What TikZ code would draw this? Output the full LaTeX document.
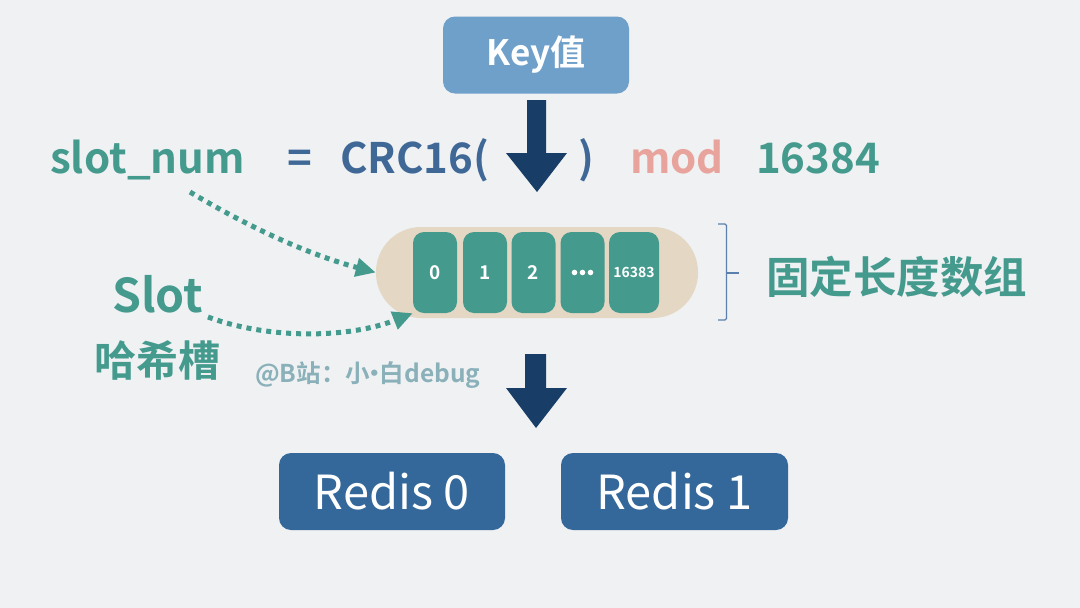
\documentclass[tikz,border=0pt]{standalone}
\usepackage{fontspec}
\setmainfont{Noto Sans CJK SC}[BoldFont={* Bold}]
\usetikzlibrary{arrows.meta}
\definecolor{bgc}{HTML}{EFF1F3}
\definecolor{keyc}{HTML}{6FA0CA}
\definecolor{navy}{HTML}{183D66}
\definecolor{teal}{HTML}{459A8E}
\definecolor{bluet}{HTML}{3F6897}
\definecolor{pinkc}{HTML}{E8A49C}
\definecolor{beige}{HTML}{E4D7C4}
\definecolor{bracec}{HTML}{5B80AE}
\definecolor{wmark}{HTML}{8AB0B9}
\definecolor{redisc}{HTML}{34679A}
\newcommand{\fs}[1]{\fontsize{#1}{#1}\selectfont}
\tikzset{
  box/.style={rounded corners=12pt, inner sep=0pt},
  cell/.style={fill=teal, rounded corners=11pt, minimum width=44pt, minimum height=81pt, inner sep=0pt, text=white, font=\bfseries\fs{19}},
  formula/.style={anchor=base west, inner sep=0pt, font=\bfseries\fs{42}},
  dotarrow/.style={teal, line width=5pt, dash pattern=on 5pt off 5pt, -{Triangle[length=20pt,width=18pt]}},
  bigarrow/.style={fill=navy, draw=none},
}
\begin{document}
\begin{tikzpicture}[x=1pt,y=-1pt]
\fill[bgc] (0,0) rectangle (1080,608);
\useasboundingbox (0,0) rectangle (1080,608);

% Key box
\node[box, fill=keyc, minimum width=186pt, minimum height=77pt, text=white, font=\bfseries\fs{35}] (key) at (536,55) {Key值};

% big arrow 1
\fill[bigarrow] (527,100) -- (546,100) -- (546,153) -- (567,153) -- (537,192) -- (506,153) -- (527,153) -- cycle;

% formula
\node[formula, text=teal] (slotnum) at (50,173) {slot\_num};
\node[formula, text=bluet] (eq) at (287,173) {=};
\node[formula, text=bluet] (crc) at (340,173) {CRC16(};
\node[formula, text=bluet] (rpar) at (578,173) {)};
\node[formula, text=pinkc] (mod) at (630,173) {mod};
\node[formula, text=teal] (num) at (756,173) {16384};

% capsule
\node[fill=beige, rounded corners=45pt, minimum width=322pt, minimum height=91pt, inner sep=0pt] (cap) at (537,272.5) {};
\node[cell] (c0) at (435,272.5) {0};
\node[cell] (c1) at (485,272.5) {1};
\node[cell] (c2) at (533.5,272.5) {2};
\node[cell] (c3) at (582.5,272.5) {};
\foreach \dx in {-8,0,8} \fill[white] ([xshift=\dx pt]c3.center) circle (2.8pt);
\node[cell, minimum width=50pt, font=\bfseries\fs{14}] (c4) at (634,272.5) {16383};

% brace
\draw[bracec, line width=1.2pt, rounded corners=1.5pt] (718,224) -- (726.5,224) -- (726.5,320) -- (718,320);
\draw[bracec, line width=1.2pt] (726.5,273) -- (739,273);
\node[anchor=west, inner sep=0pt, text=teal, font=\bfseries\fs{43.5}] (fixed) at (766,277) {固定长度数组};

% slot labels
\node[anchor=base west, inner sep=0pt, text=teal, font=\bfseries\fs{46.5}] (slot) at (112,312) {Slot};
\node[anchor=west, inner sep=0pt, text=teal, font=\bfseries\fs{42}] (hash) at (94,360) {哈希槽};
\node[anchor=west, inner sep=0pt, text=wmark, font=\bfseries\fs{24.5}] (wm) at (255,375) {@B站：小\kern-0.3em·\kern-0.3em白debug};

% dotted arrows
\coordinate (s1) at (190,192);
\coordinate (s2) at (208,317);
\draw[dotarrow] (s1) .. controls (250,228) and (310,255) .. (cap.west);
\draw[dotarrow] (s2) .. controls (270,340) and (350,338) .. (c0.south west);

% big arrow 2
\fill[bigarrow] (525,354) -- (546,354) -- (546,388) -- (567,388) -- (536,428) -- (506,388) -- (525,388) -- cycle;

% Redis boxes
\node[box, fill=redisc, minimum width=226pt, minimum height=77pt, text=white, font=\fs{47}] (r0) at (392,491.5) {Redis 0};
\node[box, fill=redisc, minimum width=227pt, minimum height=77pt, text=white, font=\fs{47}] (r1) at (674.5,491.5) {Redis 1};
\end{tikzpicture}
\end{document}
